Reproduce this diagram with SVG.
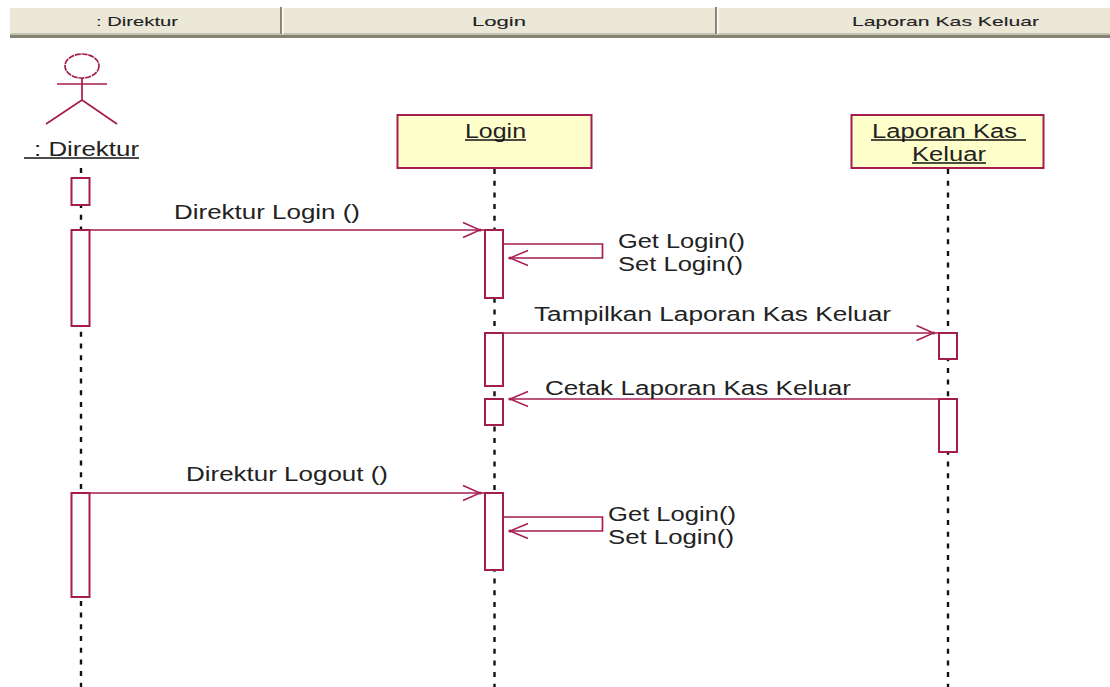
<svg xmlns="http://www.w3.org/2000/svg" width="1110" height="687" viewBox="0 0 1110 687">
<style>
.l{stroke:#a51c4f;stroke-width:1.7;fill:none}
.a{stroke:#a51c4f;stroke-width:2;fill:#fff}
.n{stroke:#a51c4f;stroke-width:2;fill:#ffffcb}
.t{font-family:"Liberation Sans",Arial,sans-serif;font-size:20px;fill:#222}
.h{font-family:"Liberation Sans",Arial,sans-serif;font-size:13px;fill:#222;stroke:#222;stroke-width:.1}
.u{stroke:#111;stroke-width:1.4}
.d{stroke:#111;stroke-width:2.4;stroke-dasharray:5 6.700;fill:none}
</style>
<defs>
<g id="ah"><path d="M-17 -7.500L0 0L-17 7.500" fill="none" stroke="#a51c4f" stroke-width="1.400"/><circle r="1.600" fill="#a51c4f"/></g>
<g id="al"><path d="M18 -7.500L0 0L18 7.500" fill="none" stroke="#a51c4f" stroke-width="1.400"/><circle r="1.600" fill="#a51c4f"/></g>
</defs>
<g id="header">
<rect x="10" y="8" width="1100" height="26" fill="#ebe8d8"/>
<rect x="10" y="33" width="1100" height="2" fill="#c4c2b2"/>
<rect x="10" y="35" width="1100" height="3" fill="#85836f"/>
<rect x="280" y="7" width="2" height="27" fill="#8a8878"/><rect x="282" y="7" width="1.500" height="27" fill="#fff"/>
<rect x="715" y="7" width="2" height="27" fill="#8a8878"/><rect x="717" y="7" width="1.500" height="27" fill="#fff"/>
<text class="h" x="96" y="26" textLength="82" lengthAdjust="spacingAndGlyphs">: Direktur</text>
<text class="h" x="472" y="26" textLength="54" lengthAdjust="spacingAndGlyphs">Login</text>
<text class="h" x="852" y="26" textLength="187" lengthAdjust="spacingAndGlyphs">Laporan Kas Keluar</text>
</g>
<g id="lifelines">
<path class="d" d="M81 168V687"/>
<path class="d" d="M494.500 169V687"/>
<path class="d" d="M948 169V687"/>
</g>
<g id="actor-direktur">
<ellipse class="l" cx="82" cy="66" rx="17" ry="12" stroke-dasharray="6 .8"/>
<path class="l" d="M82 78V100M57 84H107M82 100L46 124M82 100L117 124"/>
<text class="t" x="34" y="156" textLength="105" lengthAdjust="spacingAndGlyphs">: Direktur</text>
<path class="u" d="M24 158H139"/>
</g>
<g id="node-login">
<rect class="n" x="397.500" y="115" width="194" height="53"/>
<text class="t" x="465" y="137.500" textLength="61" lengthAdjust="spacingAndGlyphs">Login</text>
<path class="u" d="M465 140H526"/>
</g>
<g id="node-laporan">
<rect class="n" x="851.500" y="115" width="192" height="53"/>
<text class="t" x="872" y="137.500" textLength="145" lengthAdjust="spacingAndGlyphs">Laporan Kas</text>
<path class="u" d="M871 140H1026"/>
<text class="t" x="912" y="160.500" textLength="74" lengthAdjust="spacingAndGlyphs">Keluar</text>
<path class="u" d="M912 163H986"/>
</g>
<g id="activations">
<rect class="a" x="71.500" y="178" width="18" height="27"/>
<rect class="a" x="71.500" y="230" width="18" height="96"/>
<rect class="a" x="71.500" y="493" width="18" height="104"/>
<rect class="a" x="485" y="230" width="18" height="68"/>
<rect class="a" x="485" y="333" width="18" height="53"/>
<rect class="a" x="485" y="399" width="18" height="26"/>
<rect class="a" x="485" y="493" width="18" height="77"/>
<rect class="a" x="939" y="333" width="18" height="26"/>
<rect class="a" x="939" y="399" width="18" height="53"/>
</g>
<g id="connectors">
<path class="l" d="M90 230H485"/><use href="#ah" x="480" y="230"/>
<path class="l" d="M503 244H602.500V258H510"/><use href="#al" x="510" y="258"/>
<path class="l" d="M503 333H939"/><use href="#ah" x="933.500" y="333"/>
<path class="l" d="M939 399H510"/><use href="#al" x="510" y="399"/>
<path class="l" d="M90 493H485"/><use href="#ah" x="480" y="493"/>
<path class="l" d="M503 517H602.500V531H510"/><use href="#al" x="510" y="531"/>
</g>
<g id="labels">
<text class="t" x="174" y="219" textLength="186" lengthAdjust="spacingAndGlyphs">Direktur Login ()</text>
<text class="t" x="618" y="248" textLength="127" lengthAdjust="spacingAndGlyphs">Get Login()</text>
<text class="t" x="618" y="271" textLength="125" lengthAdjust="spacingAndGlyphs">Set Login()</text>
<text class="t" x="534" y="321" textLength="357" lengthAdjust="spacingAndGlyphs">Tampilkan Laporan Kas Keluar</text>
<text class="t" x="545" y="395" textLength="306" lengthAdjust="spacingAndGlyphs">Cetak Laporan Kas Keluar</text>
<text class="t" x="186" y="481" textLength="202" lengthAdjust="spacingAndGlyphs">Direktur Logout ()</text>
<text class="t" x="608" y="521" textLength="128" lengthAdjust="spacingAndGlyphs">Get Login()</text>
<text class="t" x="608" y="544" textLength="126" lengthAdjust="spacingAndGlyphs">Set Login()</text>
</g>
</svg>
